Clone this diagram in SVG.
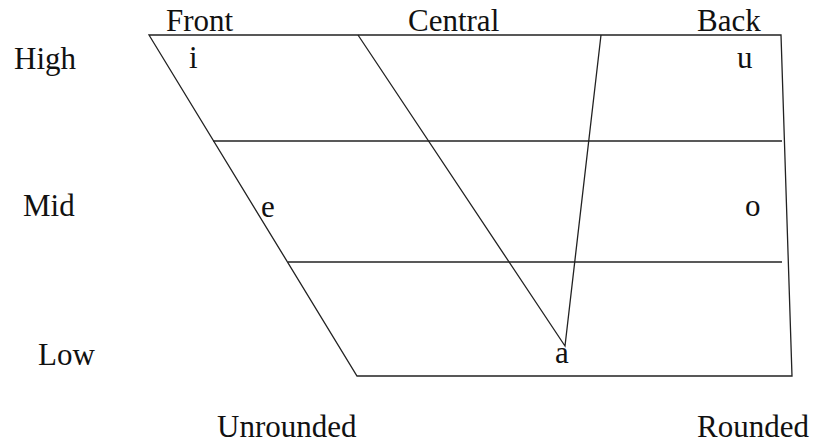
<svg xmlns="http://www.w3.org/2000/svg" width="816" height="443" viewBox="0 0 816 443">
<style>
.ln{stroke:#222;stroke-width:1.3;fill:none}
text{font-family:"Liberation Serif","Times New Roman",serif;font-size:31px;fill:#111}
</style>
<rect width="816" height="443" fill="#fff"/>
<g id="chart">
<path class="ln" d="M149,35 L781,35 L792,376 L357,376 Z"/>
<line class="ln" x1="213" y1="141" x2="782" y2="141"/>
<line class="ln" x1="288" y1="262" x2="782" y2="262"/>
<polyline class="ln" points="358,35 565,346 601,35"/>
</g>
<g id="labels">
<text x="166" y="31">Front</text>
<text x="408" y="31">Central</text>
<text x="697" y="31">Back</text>
<text x="14" y="69">High</text>
<text x="23" y="216">Mid</text>
<text x="38" y="365">Low</text>
<text x="217" y="437">Unrounded</text>
<text x="697" y="437">Rounded</text>
</g>
<g id="vowels">
<text x="189" y="68">i</text>
<text x="737" y="68">u</text>
<text x="261" y="217">e</text>
<text x="745" y="216">o</text>
<text x="555" y="363">a</text>
</g>
</svg>
